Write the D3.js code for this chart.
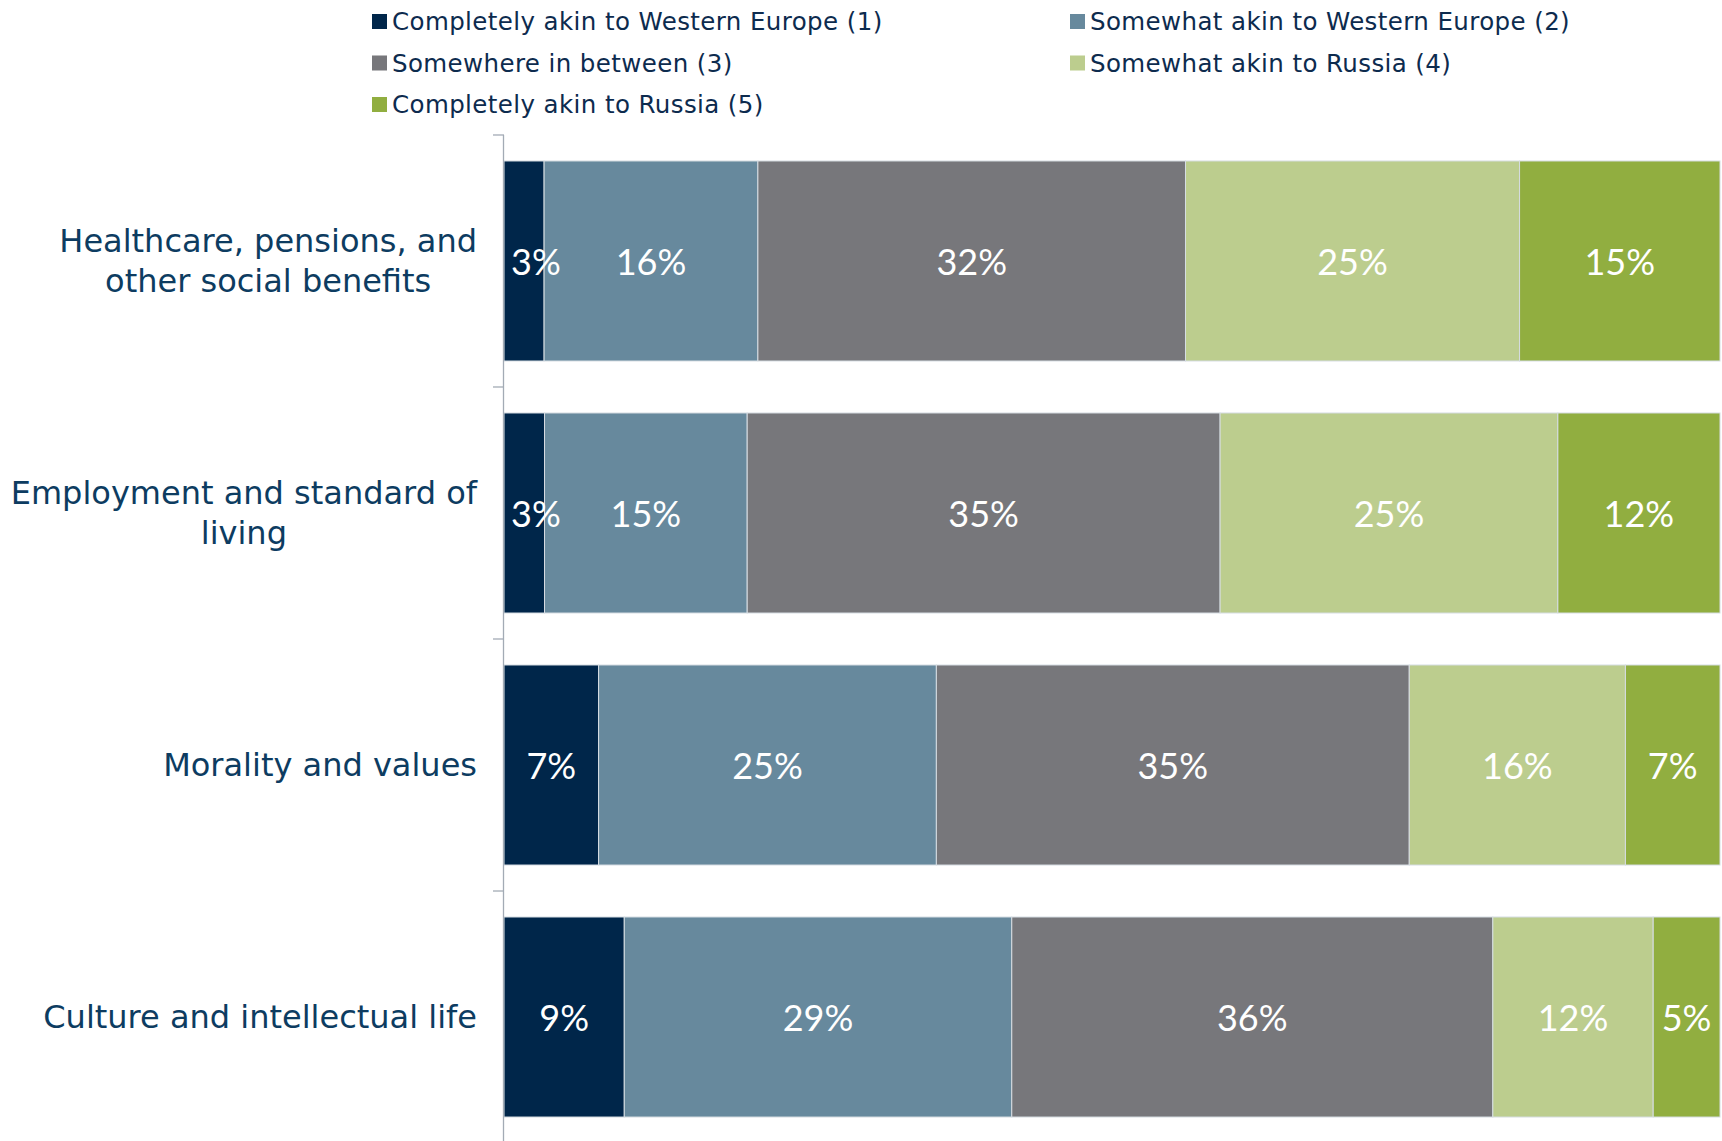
<!DOCTYPE html>
<html>
<head>
<meta charset="utf-8">
<script src="https://cdn.jsdelivr.net/npm/d3@7"></script>
<style>
  body { margin: 0; background: #fff; }
  svg { display: block; }
</style>
</head>
<body>
<div id="chart"></div>
<script>
const W = 1722, H = 1141;

// categories (line breaks as in the original labels)
const categories = [
    "Healthcare, pensions, and\nother social benefits",
    "Employment and standard of\nliving",
    "Morality and values",
    "Culture and intellectual life"
];

const seriesNames = [
    "Completely akin to Western Europe (1)",
    "Somewhat akin to Western Europe (2)",
    "Somewhere in between (3)",
    "Somewhat akin to Russia (4)",
    "Completely akin to Russia (5)"
];
const seriesColors = ["#00264a", "#67899d", "#77777b", "#bccd8e", "#91ae40"];

// percentages per category, one array per answer
const westEurope1 = [3, 3, 7, 9];
const westEurope2 = [16, 15, 25, 29];
const between3    = [32, 35, 35, 36];
const russia4     = [25, 25, 16, 12];
const russia5     = [15, 12, 7, 5];

const seriesValues = [westEurope1, westEurope2, between3, russia4, russia5];
const keys = d3.range(seriesNames.length);

var rows = categories.map(function(c, i) {
    var r = { cat: c };
    keys.forEach(function(k) { r[k] = seriesValues[k][i]; });
    return r;
});

var svg = d3.select("#chart").append("svg")
    .attr("width", W)
    .attr("height", H);

var x = d3.scaleLinear()
    .domain([0, 1])
    .range([504, 1720]);

var y = d3.scaleBand()
    .domain(categories)
    .range([135, 1143])
    .paddingInner(0.2063)
    .paddingOuter(0.1031);

// bars are shown as share of answered total (rows don't add to 100)
var stack = d3.stack()
    .keys(keys)
    .offset(d3.stackOffsetExpand);
var stacked = stack(rows);

var layers = svg.append("g").selectAll("g")
    .data(stacked)
    .enter().append("g")
    .attr("fill", function(d) { return seriesColors[d.key]; });

layers.selectAll("rect")
    .data(function(d) { return d; })
    .enter().append("rect")
    .attr("x", function(d) { return x(d[0]); })
    .attr("y", function(d) { return y(d.data.cat); })
    .attr("width", function(d) { return x(d[1]) - x(d[0]); })
    .attr("height", y.bandwidth())
    .attr("stroke", "#d6dde3")
    .attr("stroke-width", 1);

// value labels, centred; nudged right if they'd run past the bar start
stacked.forEach(function(layer) {
    svg.append("g").selectAll("text")
        .data(layer)
        .enter().append("text")
        .attr("y", function(d) { return y(d.data.cat) + y.bandwidth() / 2; })
        .attr("text-anchor", "middle")
        .attr("dominant-baseline", "central")
        .attr("font-family", "Lato, 'Open Sans', sans-serif")
        .attr("font-size", 36)
        .attr("fill", "#ffffff")
        .text(function(d) { return d.data[layer.key] + "%"; })
        .attr("x", function(d) {
            var w = this.getComputedTextLength();
            return Math.max((x(d[0]) + x(d[1])) / 2, x(0) + 7 + w / 2);
        });
});

// axis line with ticks between bands
var axisG = svg.append("g").attr("stroke", "#a3abb5").attr("stroke-width", 1.3);
axisG.append("line")
    .attr("x1", x(0) - 0.5).attr("x2", x(0) - 0.5)
    .attr("y1", y.range()[0]).attr("y2", H);
var gap = y.step() * y.paddingInner() / 2;
axisG.selectAll(".tick")
    .data(categories)
    .enter().append("line")
    .attr("x1", x(0) - 11).attr("x2", x(0))
    .attr("y1", function(d) { return y(d) - gap; })
    .attr("y2", function(d) { return y(d) - gap; });

// category labels: block right-aligned, lines centred in block
var labelRight = 477;
var lineH = 40;
categories.forEach(function(c) {
    var lines = c.split("\n");
    var g = svg.append("g");
    var texts = g.selectAll("text")
        .data(lines)
        .enter().append("text")
        .attr("font-family", "'DejaVu Sans', sans-serif")
        .attr("font-size", 32)
        .attr("fill", "#0d3c61")
        .attr("text-anchor", "middle")
        .attr("dominant-baseline", "central")
        .text(function(d) { return d; });
    var maxW = d3.max(texts.nodes(), function(n) { return n.getComputedTextLength(); });
    var cy = y(c) + y.bandwidth() / 2;
    texts
        .attr("x", labelRight - maxW / 2)
        .attr("y", function(d, i) { return cy + (i - (lines.length - 1) / 2) * lineH; });
});

// legend, two columns
var legendX = [372, 1070];
var legendY = [21.5, 63, 104.5];
var legend = svg.append("g").selectAll("g")
    .data(seriesNames)
    .enter().append("g")
    .attr("transform", function(d, i) {
        return "translate(" + legendX[i % 2] + "," + legendY[Math.floor(i / 2)] + ")";
    });
legend.append("rect")
    .attr("x", 0).attr("y", -7.5)
    .attr("width", 15).attr("height", 15)
    .attr("fill", function(d, i) { return seriesColors[i]; });
legend.append("text")
    .attr("x", 20)
    .attr("y", 0)
    .attr("dominant-baseline", "central")
    .attr("font-family", "'DejaVu Sans', sans-serif")
    .attr("font-size", 24.5)
    .attr("letter-spacing", 0.4)
    .attr("fill", "#0d2b4e")
    .text(function(d) { return d; });
</script>
</body>
</html>
